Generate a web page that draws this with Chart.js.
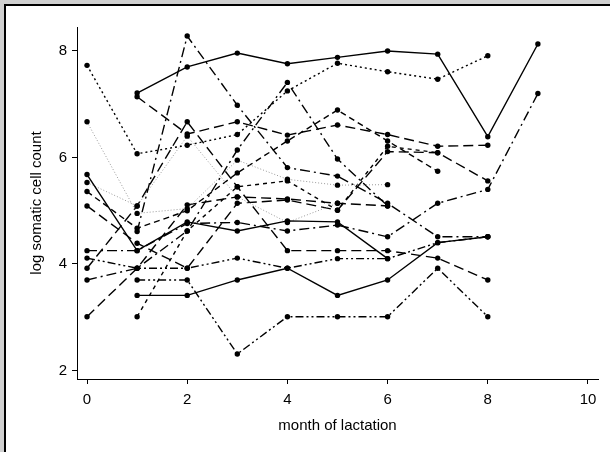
<!DOCTYPE html>
<html>
<head>
<meta charset="utf-8">
<script src="https://cdn.jsdelivr.net/npm/chart.js@4"></script>
<style>
  html, body { margin: 0; padding: 0; background: #d0d0d0; }
  #frame { position: absolute; left: 4px; top: 4px; width: 606px; height: 448px;
           background: #fff; border-left: 2px solid #000; border-top: 2px solid #000; box-sizing: border-box; }
  #cv { position: absolute; left: 0; top: 0; }
</style>
</head>
<body>
<div id="frame"></div>
<canvas id="cv" width="610" height="452"></canvas>
<script>
// month of lactation and log somatic cell count per cow
const months = [0, 1, 2, 3, 4, 5, 6, 7, 8, 9];
const cow1  = [null, 7.21, 7.70, 7.96, 7.76, 7.88, 8.00, 7.94, 6.39, 8.13];
const cow2  = [7.73, 6.07, 6.23, 6.43, 7.25, 7.77, 7.61, 7.47, 7.91, null];
const cow3  = [null, 7.14, 6.44, 6.67, 6.42, 6.61, 6.43, 6.21, 6.23, null];
const cow4  = [null, 4.61, 8.28, 6.98, 5.81, 5.65, 5.14, 4.51, 4.51, null];
const cow5  = [6.67, 4.95, 5.04, 5.95, 5.59, 5.48, 5.49, null, null, null];
const cow6  = [5.68, 4.25, 4.79, 4.62, 4.81, 4.79, 4.10, null, null, null];
const cow7  = [5.53, 5.09, 6.40, 5.26, 4.78, 5.14, null, null, null, null];
const cow8  = [5.36, 4.67, 5.00, 5.71, 6.31, 6.89, 6.31, 5.74, null, null];
const cow9  = [5.09, 4.39, 3.92, 5.14, 5.20, 5.01, 6.11, 6.09, 5.56, null];
const cow10 = [4.25, 4.25, 4.76, 4.78, 4.62, 4.73, 4.51, 5.14, 5.40, 7.20];
const cow11 = [4.11, 3.92, 3.92, 4.11, 3.92, 4.10, 4.10, 4.40, 4.51, null];
const cow12 = [3.92, 5.09, 6.67, 5.45, 4.25, 4.25, 4.25, 4.11, 3.70, null];
const cow13 = [3.70, 3.92, 4.62, 6.14, 7.41, 5.97, 5.09, null, null, null];
const cow14 = [3.01, 3.92, 5.11, 5.26, 5.22, 5.14, 5.09, null, null, null];
const cow15 = [null, 3.01, 4.62, 5.45, 5.56, 5.01, 6.21, 6.09, null, null];
const cow16 = [null, 3.41, 3.41, 3.70, 3.92, 3.41, 3.70, 4.40, 4.51, null];
const cow17 = [null, 3.70, 3.70, 2.31, 3.01, 3.01, 3.01, 3.92, 3.01, null];

const xTicks = [0, 2, 4, 6, 8, 10];
const yTicks = [2, 4, 6, 8];

const solid = [];
const dotted = [2, 3];
const longDash = [10, 5];
const longDashDot = [10, 4, 2, 4];
const dash = [6, 4];
const dashDotDot = [8, 3, 2, 3, 2, 3];
const shortDash = [4, 4];
const fine = [1, 2];

const series = [
  [cow1, solid, '#000'], [cow2, dotted, '#000'], [cow3, longDash, '#000'],
  [cow4, longDashDot, '#000'], [cow5, fine, '#999'], [cow6, solid, '#000'],
  [cow7, fine, '#999'], [cow8, dash, '#000'], [cow9, longDash, '#000'],
  [cow10, longDashDot, '#000'], [cow11, dashDotDot, '#000'], [cow12, longDash, '#000'],
  [cow13, longDashDot, '#000'], [cow14, longDash, '#000'], [cow15, shortDash, '#000'],
  [cow16, solid, '#000'], [cow17, dashDotDot, '#000']
];

const datasets = series.map(function (s) {
  let pts = [];
  months.forEach(function (m, i) {
    if (s[0][i] !== null) pts.push({ x: m, y: s[0][i] });
  });
  return {
    data: pts,
    borderColor: s[2],
    borderDash: s[1],
    borderWidth: s[2] === '#000' ? 1.4 : 1,
    pointRadius: 2.7,
    pointBackgroundColor: '#000',
    pointBorderWidth: 0,
    fill: false,
    tension: 0
  };
});

Chart.defaults.font.family = 'Arial, "Liberation Sans", sans-serif';
Chart.defaults.font.size = 15;
Chart.defaults.color = '#000';

new Chart(document.getElementById('cv').getContext('2d'), {
  type: 'line',
  data: { datasets: datasets },
  options: {
    responsive: false,
    animation: false,
    layout: { padding: { left: 0, top: 27, right: 12, bottom: 0 } },
    plugins: { legend: { display: false }, tooltip: { enabled: false } },
    scales: {
      x: {
        type: 'linear', min: -0.2, max: 10.2,
        afterBuildTicks: function (scale) { scale.ticks = xTicks.map(v => ({ value: v })); },
        afterFit: function (scale) { scale.height = 73; },
        grid: { drawOnChartArea: false, drawTicks: true, tickLength: 5, color: '#000' },
        border: { display: true, color: '#000', width: 1 },
        ticks: { padding: 7, maxRotation: 0 },
        title: { display: true, text: 'month of lactation', padding: { top: 0, bottom: 17 } }
      },
      y: {
        type: 'linear', min: 1.84, max: 8.45,
        afterBuildTicks: function (scale) { scale.ticks = yTicks.map(v => ({ value: v })); },
        afterFit: function (scale) { scale.width = 77; },
        grid: { drawOnChartArea: false, drawTicks: true, tickLength: 5, color: '#000' },
        border: { display: true, color: '#000', width: 1 },
        ticks: { padding: 5 },
        title: { display: true, text: 'log somatic cell count', padding: { top: 28, bottom: 0 } }
      }
    }
  }
});
</script>
</body>
</html>
